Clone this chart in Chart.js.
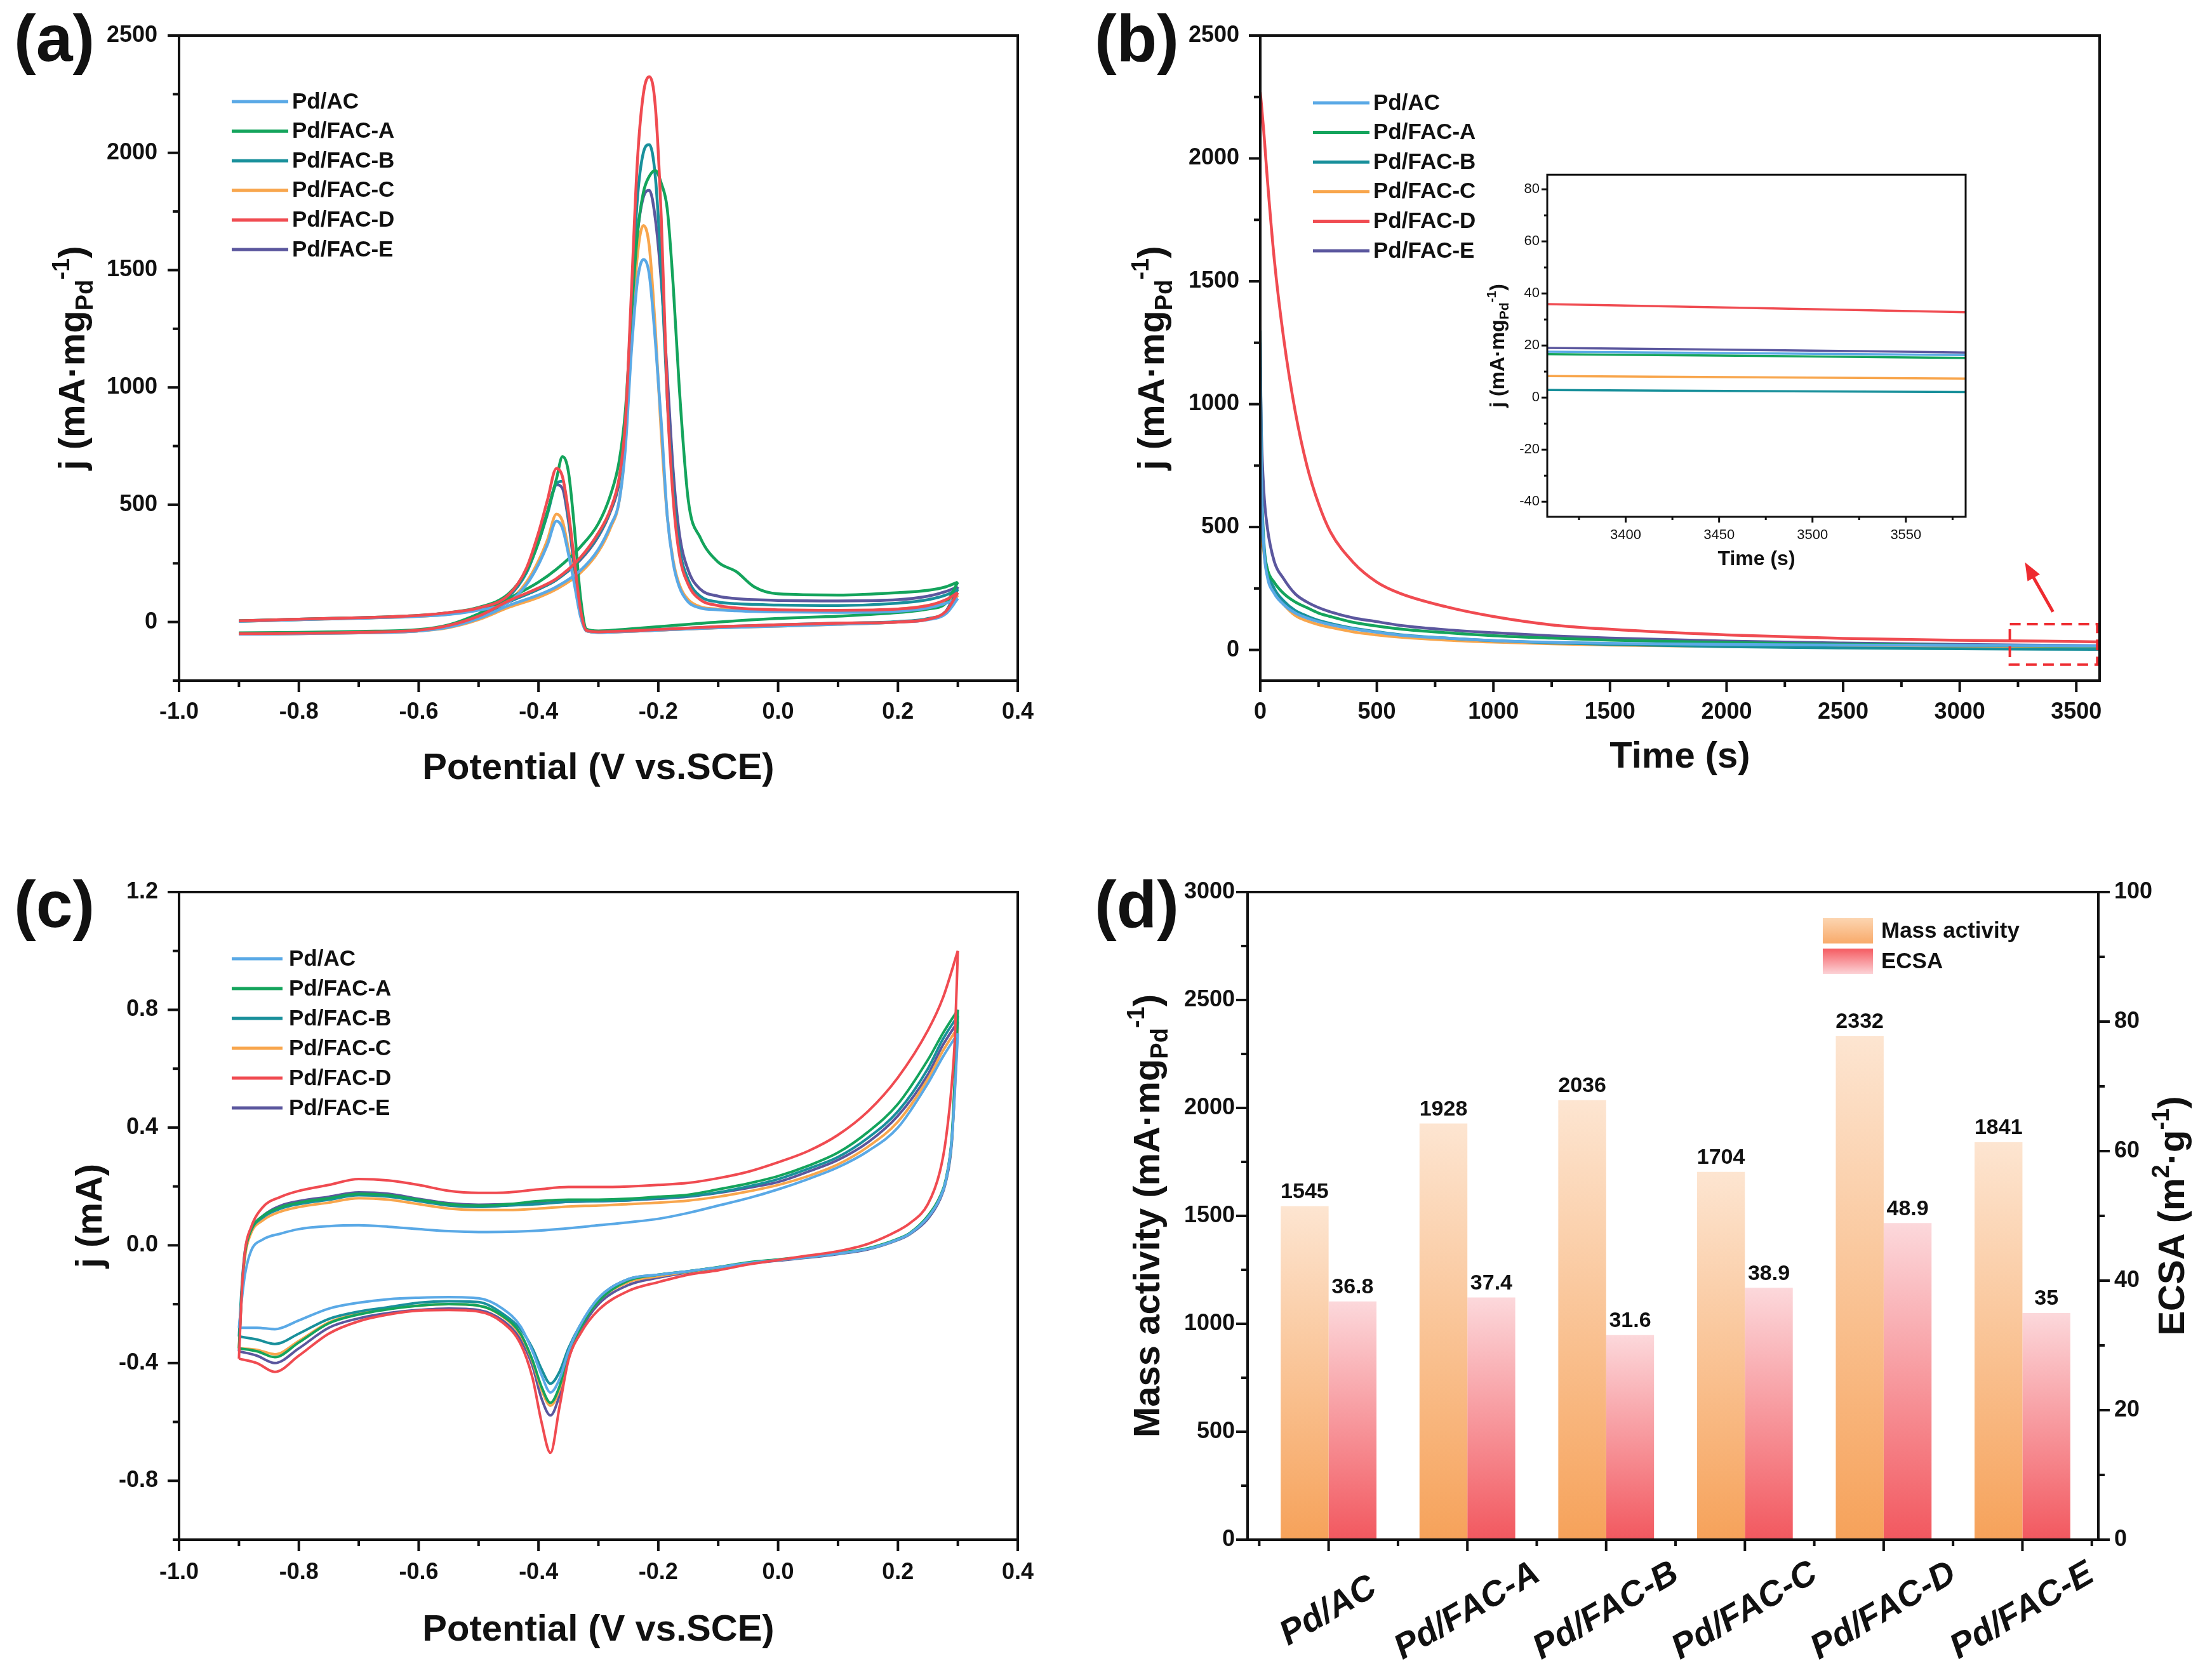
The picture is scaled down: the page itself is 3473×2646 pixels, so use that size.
<!DOCTYPE html>
<html>
<head>
<meta charset="utf-8">
<script src="https://cdn.jsdelivr.net/npm/chart.js"></script>
<style>
html, body { margin: 0; padding: 0; background: #fff; }
#page { position: relative; width: 3473px; height: 2646px; overflow: hidden; background: #fff; }
canvas { position: absolute; }
.tag { position: absolute; font: bold 104px "Liberation Sans", Arial, sans-serif; line-height: 1; color: #111; }
</style>
</head>
<body>
<div id="page">
  <canvas id="ca" width="1736" height="1320" style="left:0;top:0;width:1736px;height:1320px"></canvas>
  <canvas id="cb" width="1737" height="1320" style="left:1736px;top:0;width:1737px;height:1320px"></canvas>
  <canvas id="cbi" width="820" height="680" style="left:2300px;top:250px;width:820px;height:680px"></canvas>
  <canvas id="cc" width="1736" height="1326" style="left:0;top:1320px;width:1736px;height:1326px"></canvas>
  <canvas id="cd" width="1737" height="1326" style="left:1736px;top:1320px;width:1737px;height:1326px"></canvas>
  <div class="tag" style="left:22px;top:8px">(a)</div>
  <div class="tag" style="left:1724px;top:8px">(b)</div>
  <div class="tag" style="left:22px;top:1372px">(c)</div>
  <div class="tag" style="left:1724px;top:1372px">(d)</div>
</div>
<script>
// samples, same order in every panel
const sampleNames = ['Pd/AC', 'Pd/FAC-A', 'Pd/FAC-B', 'Pd/FAC-C', 'Pd/FAC-D', 'Pd/FAC-E'];
const sampleColors = ['#5aa9e6', '#14a45c', '#19909b', '#f8a64d', '#f04b51', '#5b579e'];

// (a) CV in ethanol, j in mA/mg Pd. Anodic sweep and return sweep, both stored by rising potential
const eorUpV = [-0.9, -0.8, -0.7, -0.6, -0.55, -0.5, -0.45, -0.4, -0.37, -0.33, -0.3, -0.28, -0.265, -0.255, -0.245, -0.235, -0.225, -0.215, -0.205, -0.195, -0.185, -0.175, -0.165, -0.15, -0.13, -0.1, -0.07, -0.04, 0, 0.1, 0.2, 0.25, 0.28, 0.3];
const eorUpAC = [-52, -50, -46, -38, -22, 15, 70, 115, 150, 220, 310, 410, 520, 740, 1150, 1450, 1545, 1480, 1200, 850, 450, 250, 150, 85, 60, 52, 48, 45, 43, 41, 46, 60, 80, 100];
const eorUpA = [-46, -44, -40, -32, -12, 35, 100, 170, 225, 320, 420, 540, 690, 900, 1300, 1650, 1830, 1900, 1925, 1870, 1760, 1430, 1000, 520, 360, 255, 215, 150, 120, 115, 125, 135, 150, 170];
const eorUpB = [-50, -48, -44, -36, -18, 22, 85, 140, 180, 270, 370, 475, 610, 840, 1350, 1800, 2000, 2035, 1900, 1500, 950, 560, 320, 180, 110, 85, 78, 75, 72, 70, 80, 95, 115, 140];
const eorUpC = [-52, -50, -46, -38, -24, 10, 62, 105, 140, 210, 300, 400, 520, 760, 1200, 1560, 1690, 1600, 1250, 800, 450, 260, 160, 95, 65, 55, 50, 48, 47, 47, 55, 70, 90, 115];
const eorUpD = [-50, -48, -44, -35, -15, 25, 90, 145, 185, 275, 380, 480, 620, 850, 1400, 1960, 2250, 2325, 2200, 1720, 950, 520, 290, 160, 95, 70, 60, 55, 52, 50, 55, 70, 95, 125];
const eorUpE = [-52, -50, -46, -38, -20, 20, 85, 140, 180, 265, 365, 470, 600, 830, 1300, 1650, 1810, 1840, 1720, 1450, 1050, 640, 380, 220, 140, 110, 100, 95, 92, 90, 95, 110, 130, 150];
const eorDownV = [-0.9, -0.8, -0.7, -0.6, -0.55, -0.5, -0.45, -0.42, -0.4, -0.385, -0.37, -0.36, -0.35, -0.34, -0.33, -0.32, -0.3, -0.25, -0.2, -0.1, 0, 0.1, 0.2, 0.25, 0.28, 0.3];
const eorDownAC = [3, 10, 16, 24, 32, 50, 85, 160, 245, 330, 430, 400, 290, 160, 25, -38, -44, -40, -35, -25, -18, -10, 0, 10, 35, 100];
const eorDownA = [5, 12, 18, 28, 40, 62, 120, 220, 340, 470, 610, 705, 640, 400, 110, -30, -38, -30, -20, 0, 15, 25, 40, 55, 80, 170];
const eorDownB = [3, 10, 17, 26, 38, 58, 110, 210, 340, 460, 590, 600, 450, 240, 50, -36, -42, -38, -32, -20, -12, -5, 2, 15, 45, 140];
const eorDownC = [3, 10, 16, 24, 33, 52, 90, 170, 260, 350, 460, 430, 310, 170, 30, -38, -44, -40, -35, -25, -18, -10, 0, 12, 38, 115];
const eorDownD = [5, 12, 18, 28, 40, 60, 115, 230, 380, 520, 655, 620, 470, 260, 55, -36, -42, -38, -32, -20, -12, -5, 0, 12, 45, 125];
const eorDownE = [5, 12, 18, 27, 39, 58, 108, 215, 350, 470, 585, 570, 430, 230, 45, -38, -44, -40, -35, -24, -16, -8, 0, 12, 45, 150];

// (b) chronoamperometry, j in mA/mg Pd
const caTime = [0, 5, 15, 30, 60, 100, 150, 200, 250, 300, 400, 500, 600, 800, 1000, 1250, 1500, 2000, 2500, 3000, 3358, 3600];
const caAC = [1250, 700, 420, 300, 230, 185, 150, 130, 115, 103, 85, 72, 60, 48, 38, 31, 27, 22, 20, 18.5, 17.6, 16.2];
const caA = [900, 650, 420, 330, 275, 230, 195, 172, 150, 136, 112, 97, 85, 70, 58, 48, 40, 30, 23, 19, 16.7, 15.3];
const caB = [1300, 750, 450, 330, 250, 200, 160, 138, 120, 108, 88, 74, 62, 48, 38, 29, 22, 13, 8, 5, 2.9, 2.2];
const caC = [780, 520, 400, 310, 235, 185, 140, 118, 103, 92, 73, 61, 52, 40, 32, 25, 20, 14, 11, 9, 8.3, 7.3];
const caD = [2270, 2220, 2110, 1920, 1590, 1270, 970, 750, 595, 482, 355, 276, 230, 175, 136, 102, 84, 61, 47, 39, 35.9, 32.7];
const caE = [1150, 880, 650, 500, 360, 290, 228, 195, 172, 155, 130, 115, 100, 82, 70, 57, 48, 36, 28, 22, 19.1, 17.3];
// (b) inset, last part of the run
const insetTime = [3358, 3470, 3582];
const insetAC = [17.6, 17.0, 16.3];
const insetA = [16.7, 16.0, 15.2];
const insetB = [2.9, 2.5, 2.1];
const insetC = [8.3, 7.8, 7.3];
const insetD = [35.9, 34.4, 32.8];
const insetE = [19.1, 18.3, 17.3];
const zoomBox = [3215, 3590, -60, 105];     // t0, t1, j0, j1
const zoomArrow = [3400, 155, 3280, 356];   // tail t, tail j, head t, head j

// (c) CV in KOH, j in mA
const hUpV = [-0.9, -0.895, -0.89, -0.88, -0.86, -0.83, -0.8, -0.75, -0.7, -0.65, -0.6, -0.55, -0.5, -0.45, -0.4, -0.35, -0.3, -0.25, -0.2, -0.15, -0.1, -0.05, 0, 0.05, 0.1, 0.15, 0.2, 0.25, 0.275, 0.3];
const hUpAC = [-0.28, -0.18, -0.10, -0.02, 0.02, 0.04, 0.055, 0.065, 0.068, 0.063, 0.055, 0.048, 0.045, 0.046, 0.05, 0.058, 0.068, 0.078, 0.09, 0.11, 0.135, 0.16, 0.19, 0.225, 0.265, 0.32, 0.40, 0.55, 0.64, 0.72];
const hUpA = [-0.35, -0.15, -0.03, 0.05, 0.10, 0.13, 0.145, 0.16, 0.175, 0.17, 0.155, 0.14, 0.135, 0.14, 0.15, 0.155, 0.155, 0.158, 0.165, 0.172, 0.19, 0.21, 0.235, 0.27, 0.315, 0.385, 0.48, 0.63, 0.72, 0.80];
const hUpB = [-0.31, -0.13, -0.02, 0.05, 0.095, 0.125, 0.14, 0.155, 0.17, 0.165, 0.15, 0.135, 0.13, 0.135, 0.14, 0.148, 0.15, 0.153, 0.16, 0.167, 0.18, 0.2, 0.225, 0.26, 0.30, 0.365, 0.455, 0.60, 0.70, 0.78];
const hUpC = [-0.35, -0.16, -0.04, 0.04, 0.085, 0.115, 0.13, 0.145, 0.16, 0.155, 0.14, 0.125, 0.12, 0.12, 0.125, 0.132, 0.135, 0.14, 0.145, 0.152, 0.165, 0.183, 0.205, 0.235, 0.275, 0.335, 0.42, 0.565, 0.66, 0.74];
const hUpD = [-0.385, -0.15, -0.02, 0.06, 0.13, 0.165, 0.185, 0.205, 0.225, 0.22, 0.205, 0.185, 0.178, 0.18, 0.19, 0.198, 0.198, 0.2, 0.205, 0.212, 0.228, 0.25, 0.282, 0.32, 0.375, 0.455, 0.57, 0.73, 0.84, 1.0];
const hUpE = [-0.36, -0.15, -0.03, 0.05, 0.10, 0.135, 0.15, 0.165, 0.18, 0.175, 0.158, 0.143, 0.138, 0.14, 0.143, 0.148, 0.15, 0.153, 0.158, 0.165, 0.178, 0.195, 0.215, 0.25, 0.29, 0.35, 0.44, 0.58, 0.68, 0.76];
const hDownV = [-0.9, -0.87, -0.84, -0.8, -0.75, -0.7, -0.65, -0.6, -0.55, -0.5, -0.46, -0.43, -0.41, -0.395, -0.38, -0.365, -0.35, -0.33, -0.3, -0.25, -0.2, -0.15, -0.1, -0.05, 0, 0.05, 0.1, 0.15, 0.2, 0.22, 0.25, 0.27, 0.28, 0.29, 0.295, 0.3];
const hDownAC = [-0.28, -0.28, -0.285, -0.255, -0.215, -0.195, -0.183, -0.178, -0.176, -0.18, -0.215, -0.275, -0.36, -0.44, -0.50, -0.455, -0.36, -0.27, -0.18, -0.115, -0.10, -0.088, -0.075, -0.06, -0.05, -0.04, -0.028, -0.012, 0.02, 0.04, 0.095, 0.16, 0.22, 0.36, 0.52, 0.72];
const hDownA = [-0.35, -0.36, -0.38, -0.33, -0.265, -0.235, -0.217, -0.205, -0.2, -0.205, -0.24, -0.30, -0.39, -0.48, -0.535, -0.48, -0.37, -0.28, -0.19, -0.12, -0.10, -0.088, -0.074, -0.058, -0.048, -0.038, -0.026, -0.01, 0.022, 0.042, 0.10, 0.165, 0.225, 0.37, 0.57, 0.80];
const hDownB = [-0.31, -0.32, -0.335, -0.30, -0.25, -0.225, -0.21, -0.195, -0.19, -0.193, -0.232, -0.285, -0.35, -0.42, -0.47, -0.43, -0.35, -0.27, -0.18, -0.115, -0.10, -0.088, -0.075, -0.06, -0.05, -0.04, -0.028, -0.012, 0.02, 0.04, 0.095, 0.16, 0.22, 0.36, 0.55, 0.78];
const hDownC = [-0.35, -0.355, -0.37, -0.325, -0.262, -0.232, -0.215, -0.205, -0.2, -0.205, -0.242, -0.305, -0.395, -0.49, -0.545, -0.49, -0.375, -0.28, -0.19, -0.125, -0.105, -0.09, -0.076, -0.06, -0.05, -0.04, -0.028, -0.012, 0.02, 0.04, 0.095, 0.16, 0.22, 0.36, 0.53, 0.74];
const hDownD = [-0.385, -0.40, -0.43, -0.375, -0.30, -0.258, -0.235, -0.222, -0.22, -0.225, -0.262, -0.335, -0.45, -0.60, -0.705, -0.55, -0.39, -0.30, -0.22, -0.155, -0.125, -0.1, -0.085, -0.065, -0.05, -0.035, -0.02, 0.005, 0.05, 0.075, 0.14, 0.25, 0.36, 0.55, 0.70, 1.0];
const hDownE = [-0.36, -0.375, -0.40, -0.35, -0.28, -0.248, -0.23, -0.22, -0.215, -0.22, -0.255, -0.32, -0.41, -0.52, -0.578, -0.51, -0.385, -0.29, -0.20, -0.135, -0.11, -0.092, -0.078, -0.062, -0.052, -0.042, -0.03, -0.014, 0.018, 0.038, 0.09, 0.155, 0.215, 0.35, 0.54, 0.76];

// (d) bars
const catalysts = ['Pd/AC', 'Pd/FAC-A', 'Pd/FAC-B', 'Pd/FAC-C', 'Pd/FAC-D', 'Pd/FAC-E'];
const massActivity = [1545, 1928, 2036, 1704, 2332, 1841];
const ecsa = [36.8, 37.4, 31.6, 38.9, 48.9, 35];

// tick labels
const potentialTicks = [-1.0, -0.8, -0.6, -0.4, -0.2, 0.0, 0.2, 0.4];
const eorTicks = [0, 500, 1000, 1500, 2000, 2500];
const timeTicks = [0, 500, 1000, 1500, 2000, 2500, 3000, 3500];
const caTicks = [0, 500, 1000, 1500, 2000, 2500];
const insetTimeTicks = [3400, 3450, 3500, 3550];
const insetTicks = [-40, -20, 0, 20, 40, 60, 80];
const hTicks = [-0.8, -0.4, 0.0, 0.4, 0.8, 1.2];
const massTicks = [0, 500, 1000, 1500, 2000, 2500, 3000];
const ecsaTicks = [0, 20, 40, 60, 80, 100];

const FONT = '"Liberation Sans", Arial, sans-serif';
Chart.defaults.font.family = FONT;
Chart.defaults.color = '#111';

function steps(a, b, s) {
	const out = [];
	for (let v = a; v <= b + s / 1000; v += s) out.push(Math.round(v * 1000) / 1000);
	return out;
}

function axis(pos, min, max, ticks, fmt, pad, size, font) {
	return {
		type: 'linear', position: pos, min: min, max: max, bounds: 'data', offset: false,
		grid: { display: false, drawTicks: false, offset: false },
		border: { display: false },
		ticks: { autoSkip: false, maxRotation: 0, minRotation: 0, padding: pad, color: '#111', font: font, callback: fmt },
		afterBuildTicks: (s) => { s.ticks = ticks.map((v) => ({ value: v })); },
		afterFit: (s) => { if (pos === 'bottom') s.height = size; else s.width = size; }
	};
}

// frame box plus outward major/minor tick marks
function framePlugin(cfg) {
	return {
		id: 'frame',
		afterDatasetsDraw(chart) {
			const { ctx, chartArea: a } = chart;
			ctx.save();
			ctx.strokeStyle = '#111';
			ctx.lineWidth = cfg.width;
			cfg.ticks.forEach((t) => {
				const s = chart.scales[t.axis];
				[[t.major, cfg.major], [t.minor, cfg.minor]].forEach(([vals, len]) => {
					vals.forEach((v) => {
						const p = s.getPixelForValue(v);
						ctx.beginPath();
						if (t.side === 'bottom') { ctx.moveTo(p, a.bottom); ctx.lineTo(p, a.bottom + len); }
						else if (t.side === 'left') { ctx.moveTo(a.left, p); ctx.lineTo(a.left - len, p); }
						else { ctx.moveTo(a.right, p); ctx.lineTo(a.right + len, p); }
						ctx.stroke();
					});
				});
			});
			ctx.strokeRect(a.left, a.top, a.right - a.left, a.bottom - a.top);
			ctx.restore();
		}
	};
}

// text with sub/superscripts: parts = [text, size, shift]
function richText(ctx, parts, x, y, rot, weight) {
	ctx.save();
	ctx.translate(x, y);
	ctx.rotate(rot);
	ctx.fillStyle = '#111';
	ctx.textBaseline = 'alphabetic';
	ctx.textAlign = 'left';
	let w = 0;
	parts.forEach((p) => { ctx.font = weight + ' ' + p[1] + 'px ' + FONT; w += ctx.measureText(p[0]).width; });
	let cx = -w / 2;
	parts.forEach((p) => {
		ctx.font = weight + ' ' + p[1] + 'px ' + FONT;
		ctx.fillText(p[0], cx, p[2] || 0);
		cx += ctx.measureText(p[0]).width;
	});
	ctx.restore();
}

function titlePlugin(list) {
	return {
		id: 'titles',
		afterDraw(chart) {
			const a = chart.chartArea;
			const midX = (a.left + a.right) / 2;
			const midY = (a.top + a.bottom) / 2;
			list.forEach((t) => {
				const w = t.weight || 'bold';
				if (t.side === 'bottom') richText(chart.ctx, t.parts, midX, a.bottom + t.off, 0, w);
				else if (t.side === 'left') richText(chart.ctx, t.parts, a.left + t.off, midY, -Math.PI / 2, w);
				else richText(chart.ctx, t.parts, a.right + t.off, midY, -Math.PI / 2, w);
			});
		}
	};
}

function lineLegend(cfg) {
	return {
		id: 'lineLegend',
		afterDraw(chart) {
			const a = chart.chartArea;
			const ctx = chart.ctx;
			ctx.save();
			ctx.font = 'bold ' + cfg.size + 'px ' + FONT;
			ctx.textBaseline = 'middle';
			sampleNames.forEach((name, i) => {
				const x = a.left + cfg.left;
				const y = a.top + cfg.top + i * cfg.gap;
				ctx.strokeStyle = sampleColors[i];
				ctx.lineWidth = cfg.lw;
				ctx.beginPath();
				ctx.moveTo(x, y);
				ctx.lineTo(x + cfg.len, y);
				ctx.stroke();
				ctx.fillStyle = '#111';
				ctx.fillText(name, x + cfg.len + cfg.space, y + 1);
			});
			ctx.restore();
		}
	};
}

function lineSets(branches, width) {
	const sets = [];
	sampleNames.forEach((name, i) => {
		branches.forEach(([xs, series]) => {
			sets.push({
				label: name,
				data: xs.map((x, k) => ({ x: x, y: series[i][k] })),
				borderColor: sampleColors[i],
				borderWidth: width,
				pointRadius: 0,
				fill: false,
				cubicInterpolationMode: 'monotone',
				order: i === 4 ? 0 : i + 1
			});
		});
	});
	return sets;
}

function lineOptions(padding, scales) {
	return {
		responsive: false,
		animation: false,
		events: [],
		layout: { padding: padding },
		plugins: { legend: { display: false }, tooltip: { enabled: false } },
		scales: scales
	};
}

const tickFont = { size: 36, weight: 'bold' };
const jParts = (big, small, sub, sup) => [['j (mA·mg', big], ['Pd', small, sub], ['-1', small, sup], [')', big]];

// (a)
new Chart(document.getElementById('ca'), {
	type: 'line',
	data: {
		datasets: lineSets([
			[eorUpV, [eorUpAC, eorUpA, eorUpB, eorUpC, eorUpD, eorUpE]],
			[eorDownV, [eorDownAC, eorDownA, eorDownB, eorDownC, eorDownD, eorDownE]]
		], 4.5)
	},
	options: lineOptions({ left: 0, top: 56, right: 133, bottom: 0 }, {
		x: axis('bottom', -1.0, 0.4, potentialTicks, (v) => v.toFixed(1), 28, 248, tickFont),
		y: axis('left', -250, 2500, eorTicks, (v) => String(v), 34, 282, tickFont)
	}),
	plugins: [
		framePlugin({ width: 4, major: 18, minor: 10, ticks: [
			{ axis: 'x', side: 'bottom', major: potentialTicks, minor: steps(-0.9, 0.3, 0.2) },
			{ axis: 'y', side: 'left', major: eorTicks, minor: steps(-250, 2250, 500) }
		] }),
		titlePlugin([
			{ side: 'bottom', off: 155, parts: [['Potential (V vs.SCE)', 58]] },
			{ side: 'left', off: -149, parts: jParts(58, 38, 13, -24) }
		]),
		lineLegend({ left: 83, top: 104, gap: 46.6, len: 89, space: 6, size: 35, lw: 5 })
	]
});

// (b)
const zoomMarker = {
	id: 'zoomMarker',
	afterDatasetsDraw(chart) {
		const { ctx } = chart;
		const x = chart.scales.x;
		const y = chart.scales.y;
		ctx.save();
		ctx.strokeStyle = '#ee2b30';
		ctx.fillStyle = '#ee2b30';
		ctx.lineWidth = 4;
		ctx.setLineDash([17, 10]);
		const x0 = x.getPixelForValue(zoomBox[0]);
		const x1 = x.getPixelForValue(zoomBox[1]);
		const y0 = y.getPixelForValue(zoomBox[2]);
		const y1 = y.getPixelForValue(zoomBox[3]);
		ctx.strokeRect(x0, y1, x1 - x0, y0 - y1);
		ctx.setLineDash([]);
		const ax0 = x.getPixelForValue(zoomArrow[0]);
		const ay0 = y.getPixelForValue(zoomArrow[1]);
		const ax1 = x.getPixelForValue(zoomArrow[2]);
		const ay1 = y.getPixelForValue(zoomArrow[3]);
		const ang = Math.atan2(ay1 - ay0, ax1 - ax0);
		const head = 30;
		ctx.lineWidth = 5;
		ctx.beginPath();
		ctx.moveTo(ax0, ay0);
		ctx.lineTo(ax1 - Math.cos(ang) * head * 0.8, ay1 - Math.sin(ang) * head * 0.8);
		ctx.stroke();
		ctx.beginPath();
		ctx.moveTo(ax1, ay1);
		ctx.lineTo(ax1 - head * Math.cos(ang - 0.38), ay1 - head * Math.sin(ang - 0.38));
		ctx.lineTo(ax1 - head * Math.cos(ang + 0.38), ay1 - head * Math.sin(ang + 0.38));
		ctx.closePath();
		ctx.fill();
		ctx.restore();
	}
};

new Chart(document.getElementById('cb'), {
	type: 'line',
	data: { datasets: lineSets([[caTime, [caAC, caA, caB, caC, caD, caE]]], 4.5) },
	options: lineOptions({ left: 0, top: 56, right: 166, bottom: 0 }, {
		x: axis('bottom', 0, 3600, timeTicks, (v) => String(v), 28, 248, tickFont),
		y: axis('left', -125, 2500, caTicks, (v) => String(v), 33, 249, tickFont)
	}),
	plugins: [
		zoomMarker,
		framePlugin({ width: 4, major: 18, minor: 10, ticks: [
			{ axis: 'x', side: 'bottom', major: timeTicks, minor: steps(250, 3250, 500) },
			{ axis: 'y', side: 'left', major: caTicks, minor: steps(250, 2250, 500) }
		] }),
		titlePlugin([
			{ side: 'bottom', off: 137, parts: [['Time (s)', 58]] },
			{ side: 'left', off: -152, parts: jParts(58, 38, 13, -24) }
		]),
		lineLegend({ left: 83, top: 106, gap: 46.6, len: 89, space: 6, size: 35, lw: 5 })
	]
});

// (b) inset
const insetFont = { size: 22, weight: 'normal' };
new Chart(document.getElementById('cbi'), {
	type: 'line',
	data: { datasets: lineSets([[insetTime, [insetAC, insetA, insetB, insetC, insetD, insetE]]], 3.5) },
	options: lineOptions({ left: 0, top: 23, right: 24, bottom: 0 }, {
		x: axis('bottom', 3358, 3582, insetTimeTicks, (v) => String(v), 16, 116, insetFont),
		y: axis('left', -45.8, 85.6, insetTicks, (v) => String(v), 12, 137, insetFont)
	}),
	plugins: [
		framePlugin({ width: 3, major: 9, minor: 5, ticks: [
			{ axis: 'x', side: 'bottom', major: insetTimeTicks, minor: steps(3375, 3575, 50) },
			{ axis: 'y', side: 'left', major: insetTicks, minor: steps(-30, 70, 20) }
		] }),
		titlePlugin([
			{ side: 'bottom', off: 76, parts: [['Time (s)', 32]] },
			{ side: 'left', off: -68, parts: jParts(32, 21, 7, -13) }
		])
	]
});

// (c)
new Chart(document.getElementById('cc'), {
	type: 'line',
	data: {
		datasets: lineSets([
			[hUpV, [hUpAC, hUpA, hUpB, hUpC, hUpD, hUpE]],
			[hDownV, [hDownAC, hDownA, hDownB, hDownC, hDownD, hDownE]]
		], 4)
	},
	options: lineOptions({ left: 0, top: 85, right: 133, bottom: 0 }, {
		x: axis('bottom', -1.0, 0.4, potentialTicks, (v) => v.toFixed(1), 30, 221, tickFont),
		y: axis('left', -1.0, 1.2, hTicks, (v) => v.toFixed(1), 33, 282, tickFont)
	}),
	plugins: [
		framePlugin({ width: 4, major: 18, minor: 10, ticks: [
			{ axis: 'x', side: 'bottom', major: potentialTicks, minor: steps(-0.9, 0.3, 0.2) },
			{ axis: 'y', side: 'left', major: hTicks, minor: steps(-1.0, 1.0, 0.4) }
		] }),
		titlePlugin([
			{ side: 'bottom', off: 159, parts: [['Potential (V vs.SCE)', 58]] },
			{ side: 'left', off: -122, parts: [['j (mA)', 58]] }
		]),
		lineLegend({ left: 83, top: 105, gap: 47, len: 80, space: 10, size: 35, lw: 5 })
	]
});

// (d)
function barFill(top, bottom) {
	return (c) => {
		const chart = c.chart;
		if (c.type !== 'data' || !chart.chartArea) return bottom;
		const s = chart.scales[c.dataset.yAxisID];
		const yTop = s.getPixelForValue(c.parsed.y);
		const yBase = s.getPixelForValue(0);
		if (!isFinite(yTop) || !isFinite(yBase) || yTop === yBase) return bottom;
		const g = chart.ctx.createLinearGradient(0, yTop, 0, yBase);
		g.addColorStop(0, top);
		g.addColorStop(1, bottom);
		return g;
	};
}

const barValues = {
	id: 'barValues',
	afterDatasetsDraw(chart) {
		const ctx = chart.ctx;
		ctx.save();
		ctx.font = 'bold 34px ' + FONT;
		ctx.textAlign = 'center';
		ctx.textBaseline = 'bottom';
		ctx.fillStyle = '#111';
		chart.data.datasets.forEach((ds, di) => {
			chart.getDatasetMeta(di).data.forEach((bar, k) => {
				ctx.fillText(String(ds.data[k].y), bar.x, bar.y - 5);
			});
		});
		ctx.restore();
	}
};

const barLegend = {
	id: 'barLegend',
	afterDraw(chart) {
		const a = chart.chartArea;
		const ctx = chart.ctx;
		const rows = [
			['Mass activity', '#fcd5b1', '#f8aa6a'],
			['ECSA', '#f55b61', '#fcd3d7']
		];
		ctx.save();
		ctx.font = 'bold 35px ' + FONT;
		ctx.textBaseline = 'middle';
		rows.forEach(([name, c0, c1], i) => {
			const x = a.left + 906;
			const y = a.top + 41 + i * 48;
			const g = ctx.createLinearGradient(0, y, 0, y + 40);
			g.addColorStop(0, c0);
			g.addColorStop(1, c1);
			ctx.fillStyle = g;
			ctx.fillRect(x, y, 79, 40);
			ctx.fillStyle = '#111';
			ctx.fillText(name, x + 92, y + 21);
		});
		ctx.restore();
	}
};

// slanted category names, centred under each group
const catLabels = {
	id: 'catLabels',
	afterDraw(chart) {
		const x = chart.scales.x;
		const a = chart.chartArea;
		const ctx = chart.ctx;
		ctx.save();
		ctx.font = 'italic bold 55px ' + FONT;
		ctx.fillStyle = '#111';
		ctx.textAlign = 'center';
		ctx.textBaseline = 'middle';
		catalysts.forEach((name, i) => {
			ctx.save();
			ctx.translate(x.getPixelForValue(i), a.bottom + 113);
			ctx.rotate(-Math.PI / 6);
			ctx.fillText(name, 0, 0);
			ctx.restore();
		});
		ctx.restore();
	}
};

const catAxis = axis('bottom', -0.584, 5.547, catalysts.map((c, i) => i), (v) => catalysts[v], 10, 221, tickFont);
catAxis.ticks.display = false;

new Chart(document.getElementById('cd'), {
	type: 'bar',
	data: {
		datasets: [
			{
				label: 'Mass activity',
				data: massActivity.map((v, i) => ({ x: i, y: v })),
				yAxisID: 'y',
				backgroundColor: barFill('#fde5d1', '#f6a25a'),
				borderWidth: 0,
				categoryPercentage: 0.69,
				barPercentage: 1.0
			},
			{
				label: 'ECSA',
				data: ecsa.map((v, i) => ({ x: i, y: v })),
				yAxisID: 'y2',
				backgroundColor: barFill('#fcd8db', '#f2585f'),
				borderWidth: 0,
				categoryPercentage: 0.69,
				barPercentage: 1.0
			}
		]
	},
	options: lineOptions({ left: 0, top: 85, right: 0, bottom: 0 }, {
		x: catAxis,
		y: axis('left', 0, 3000, massTicks, (v) => String(v), 20, 229, tickFont),
		y2: axis('right', 0, 100, ecsaTicks, (v) => String(v), 25, 168, tickFont)
	}),
	plugins: [
		barValues,
		framePlugin({ width: 4, major: 18, minor: 10, ticks: [
			{ axis: 'x', side: 'bottom', major: catalysts.map((c, i) => i), minor: steps(-0.5, 5.5, 1) },
			{ axis: 'y', side: 'left', major: massTicks, minor: steps(250, 2750, 500) },
			{ axis: 'y2', side: 'right', major: ecsaTicks, minor: steps(10, 90, 20) }
		] }),
		titlePlugin([
			{ side: 'left', off: -139, parts: [['Mass activity (mA·mg', 58], ['Pd', 38, 13], ['-1', 38, -24], [')', 58]] },
			{ side: 'right', off: 135, parts: [['ECSA (m', 58], ['2', 38, -24], ['·g', 58], ['-1', 38, -24], [')', 58]] }
		]),
		barLegend,
		catLabels
	]
});
</script>
</body>
</html>
